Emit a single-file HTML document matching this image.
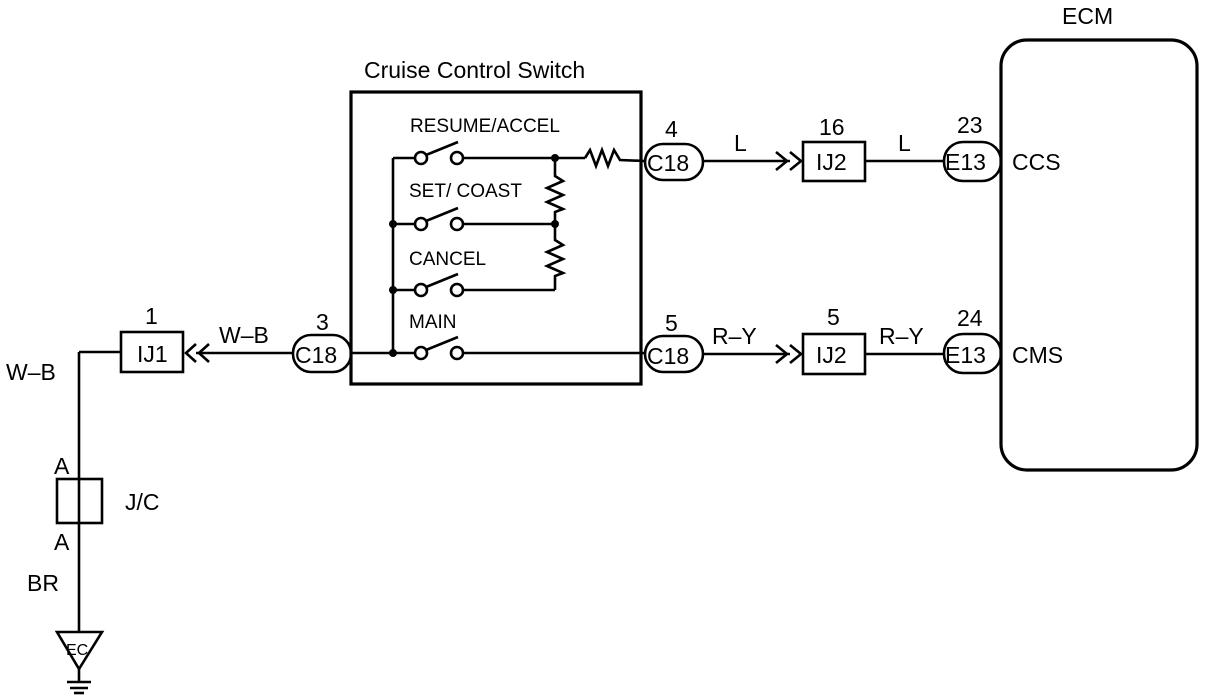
<!DOCTYPE html>
<html><head><style>
html,body{margin:0;padding:0;background:#fff;}
svg{display:block;}
text{font-family:"Liberation Sans",Arial,sans-serif;fill:#000;}
</style></head><body>
<svg width="1216" height="700" viewBox="0 0 1216 700" xmlns="http://www.w3.org/2000/svg">
<g stroke="#000" fill="none" stroke-width="2.6">
<rect x="1001" y="40" width="196" height="430" rx="26" stroke-width="3.2"/>
<rect x="351" y="92" width="290" height="292" stroke-width="3.2"/>
<line x1="393" y1="158" x2="393" y2="353"/>
<line x1="393" y1="158" x2="414" y2="158"/>
<line x1="393" y1="224" x2="414" y2="224"/>
<line x1="393" y1="290" x2="414" y2="290"/>
<line x1="351" y1="353" x2="414" y2="353"/>
<g>
<circle cx="421" cy="158" r="6"/><circle cx="457" cy="158" r="6"/><line x1="426" y1="155" x2="458" y2="142"/>
<circle cx="421" cy="224" r="6"/><circle cx="457" cy="224" r="6"/><line x1="426" y1="221" x2="458" y2="208"/>
<circle cx="421" cy="290" r="6"/><circle cx="457" cy="290" r="6"/><line x1="426" y1="287" x2="458" y2="274"/>
<circle cx="421" cy="353" r="6"/><circle cx="457" cy="353" r="6"/><line x1="426" y1="350" x2="458" y2="337"/>
</g>
<line x1="463" y1="158" x2="585" y2="158"/>
<polyline points="585,158 590,150 596,166 602,150 608,166 614,150 620,160 645,161"/>
<line x1="463" y1="224" x2="555" y2="224"/>
<line x1="463" y1="290" x2="555" y2="290"/>
<line x1="463" y1="353" x2="645" y2="353"/>
<polyline points="555,158 555,176 563,181 547,188 563,195 547,202 563,209 555,212 555,224"/>
<polyline points="555,224 555,240 563,245 547,252 563,259 547,266 563,273 555,276 555,290"/>
<rect x="645" y="144" width="58" height="36" rx="18"/>
<rect x="645" y="336" width="58" height="36" rx="18"/>
<rect x="293" y="335" width="58" height="37" rx="18"/>
<line x1="703" y1="161" x2="790" y2="161"/>
<polyline points="776,152 787,161 776,170"/><polyline points="790,152 801,161 790,170"/>
<rect x="803" y="142" width="62" height="39"/>
<line x1="865" y1="161" x2="944" y2="161"/>
<rect x="944" y="142" width="57" height="39" rx="19"/>
<line x1="703" y1="354" x2="790" y2="354"/>
<polyline points="776,345 787,354 776,363"/><polyline points="790,345 801,354 790,363"/>
<rect x="803" y="334" width="62" height="40"/>
<line x1="865" y1="354" x2="944" y2="354"/>
<rect x="944" y="334" width="57" height="39" rx="19"/>
<line x1="293" y1="353" x2="196" y2="353"/>
<polyline points="196,344 186,353 196,362"/><polyline points="209,344 199,353 209,362"/>
<rect x="121" y="332" width="62" height="40"/>
<line x1="121" y1="352" x2="79" y2="352"/>
<line x1="79" y1="352" x2="79" y2="632"/>
<rect x="57" y="479" width="45" height="44"/>
<polygon points="57,632 102,632 79,669"/>
<line x1="79" y1="669" x2="79" y2="682"/>
<line x1="67" y1="682" x2="91" y2="682"/>
<line x1="70" y1="688" x2="88" y2="688"/>
<line x1="74" y1="693" x2="84" y2="693"/>
</g>
<g fill="#000">
<circle cx="393" cy="224" r="4"/><circle cx="393" cy="290" r="4"/><circle cx="393" cy="353" r="4"/>
<circle cx="555" cy="158" r="4"/><circle cx="555" cy="224" r="4"/>
</g>
<g font-size="23">
<text x="1062" y="24">ECM</text>
<text x="364" y="78">Cruise Control Switch</text>
<text x="1012" y="170">CCS</text>
<text x="1012" y="363">CMS</text>
<text x="665" y="137">4</text>
<text x="665" y="331">5</text>
<text x="316" y="330">3</text>
<text x="734" y="151">L</text>
<text x="898" y="151">L</text>
<text x="712" y="344">R–Y</text>
<text x="879" y="344">R–Y</text>
<text x="819" y="135">16</text>
<text x="827" y="325">5</text>
<text x="957" y="133">23</text>
<text x="957" y="326">24</text>
<text x="145" y="324">1</text>
<text x="219" y="343">W–B</text>
<text x="6" y="380">W–B</text>
<text x="54" y="474">A</text>
<text x="54" y="550">A</text>
<text x="125" y="510">J/C</text>
<text x="27" y="591">BR</text>
<text x="647" y="171">C18</text>
<text x="647" y="364">C18</text>
<text x="295" y="363">C18</text>
<text x="816" y="170">IJ2</text>
<text x="816" y="363">IJ2</text>
<text x="945" y="170">E13</text>
<text x="945" y="363">E13</text>
<text x="137" y="362">IJ1</text>
</g>
<g font-size="19">
<text x="410" y="132">RESUME/ACCEL</text>
<text x="409" y="197">SET/ COAST</text>
<text x="409" y="265">CANCEL</text>
<text x="409" y="328">MAIN</text>
<text x="66" y="655" font-size="16">EC</text>
</g>
</svg>
</body></html>
